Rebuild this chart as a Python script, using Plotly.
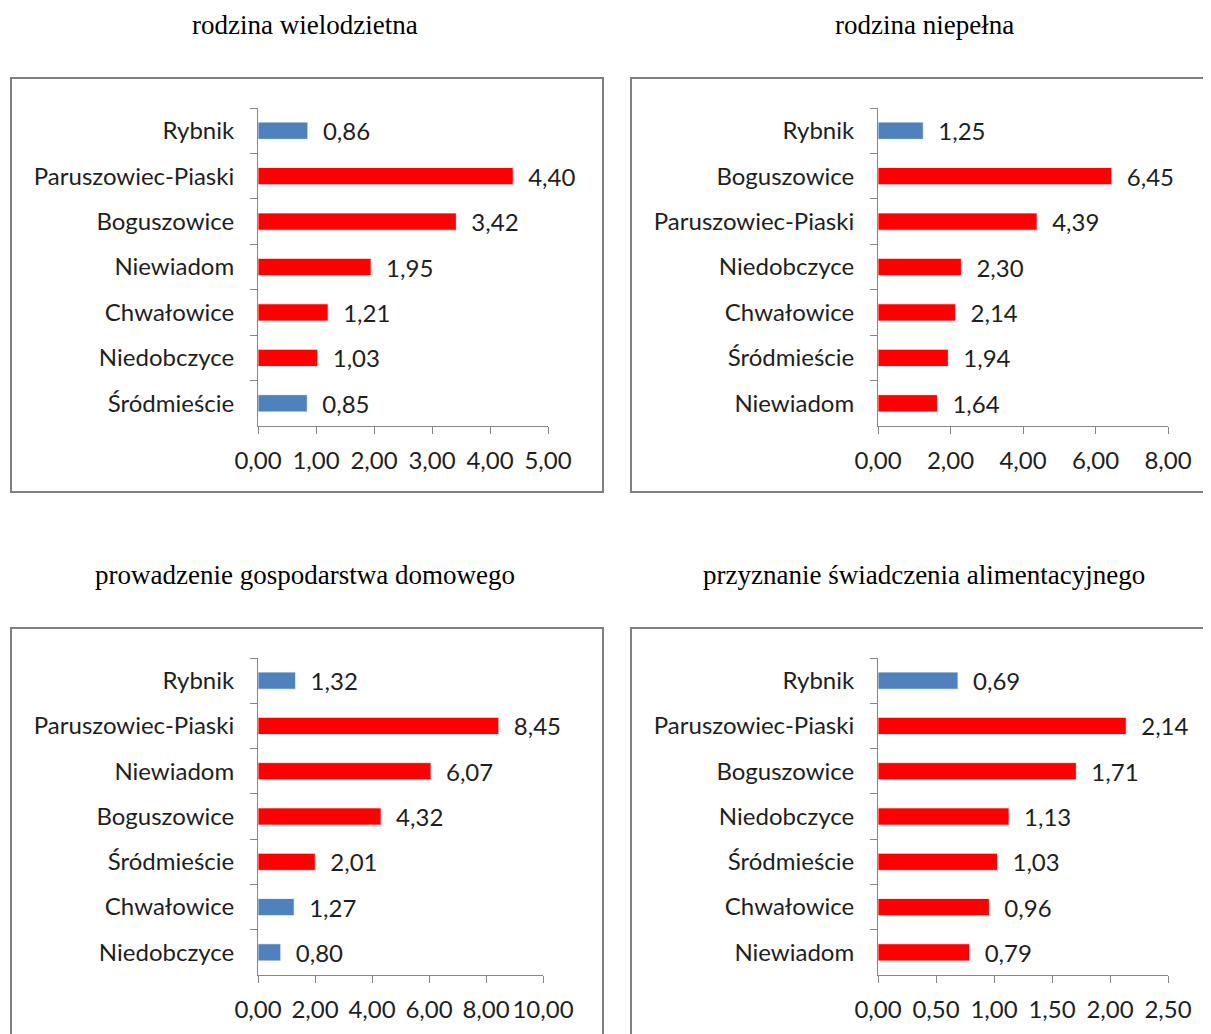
import plotly.graph_objects as go

W, H = 1211, 1034
OFF = 8  # page body margin in the browser

# ---- data ----
titles = [
    "rodzina wielodzietna",
    "rodzina niepełna",
    "prowadzenie gospodarstwa domowego",
    "przyznanie świadczenia alimentacyjnego",
]

cats1 = ["Rybnik", "Paruszowiec-Piaski", "Boguszowice", "Niewiadom", "Chwałowice", "Niedobczyce", "Śródmieście"]
vals1 = [0.86, 4.40, 3.42, 1.95, 1.21, 1.03, 0.85]
cols1 = ["blue", "red", "red", "red", "red", "red", "blue"]

cats2 = ["Rybnik", "Boguszowice", "Paruszowiec-Piaski", "Niedobczyce", "Chwałowice", "Śródmieście", "Niewiadom"]
vals2 = [1.25, 6.45, 4.39, 2.30, 2.14, 1.94, 1.64]
cols2 = ["blue", "red", "red", "red", "red", "red", "red"]

cats3 = ["Rybnik", "Paruszowiec-Piaski", "Niewiadom", "Boguszowice", "Śródmieście", "Chwałowice", "Niedobczyce"]
vals3 = [1.32, 8.45, 6.07, 4.32, 2.01, 1.27, 0.80]
cols3 = ["blue", "red", "red", "red", "red", "blue", "blue"]

cats4 = ["Rybnik", "Paruszowiec-Piaski", "Boguszowice", "Niedobczyce", "Śródmieście", "Chwałowice", "Niewiadom"]
vals4 = [0.69, 2.14, 1.71, 1.13, 1.03, 0.96, 0.79]
cols4 = ["blue", "red", "red", "red", "red", "red", "red"]

ranges = [(0, 5), (0, 8), (0, 10), (0, 2.5)]
dticks = [1, 2, 2, 0.5]

# ---- styling ----
COLOR_MAP = {"blue": "#4F81BD", "red": "#FF0000"}
FONT = "Lato, 'Open Sans', sans-serif"
FS = 24
TXT = "#1e1e1e"
AX = "#868686"

# panel geometry in target pixels: (x0, x1, ytop, ybottom) of plot area
plot_px = [
    (258, 548, 108, 426),
    (878, 1168, 108, 426),
    (258, 543, 658, 975),
    (878, 1168, 658, 975),
]
title_px = [(305, 25), (924, 25), (305, 575), (924, 575)]
box_px = [(11, 78, 603, 492), (631, 78, 1240, 492), (11, 628, 603, 1070), (631, 628, 1240, 1070)]

datasets = [(cats1, vals1, cols1), (cats2, vals2, cols2), (cats3, vals3, cols3), (cats4, vals4, cols4)]


def px_x(x):
    return (x - OFF) / W


def px_y(y):
    return 1 - (y - OFF) / H


fig = go.Figure()
shapes = []
annotations = []

for i, (cats, vals, cols) in enumerate(datasets):
    n = i + 1
    xa = "x" if n == 1 else f"x{n}"
    ya = "y" if n == 1 else f"y{n}"
    fig.add_trace(go.Bar(
        x=vals, y=cats, orientation="h",
        marker=dict(color=[COLOR_MAP[c] for c in cols], line=dict(color="rgba(255,255,255,0.8)", width=1)),
        texttemplate="\u2002%{x:.2f}",
        textposition="outside",
        constraintext="none",
        textfont=dict(family=FONT, size=FS, color=TXT),
        cliponaxis=False,
        xaxis=xa, yaxis=ya, showlegend=False, hoverinfo="skip",
    ))
    x0, x1, yt, yb = plot_px[i]
    xkey = "xaxis" if n == 1 else f"xaxis{n}"
    ykey = "yaxis" if n == 1 else f"yaxis{n}"
    fig.update_layout(**{
        xkey: dict(
            domain=[px_x(x0), px_x(x1)], anchor=ya, range=list(ranges[i]), dtick=dticks[i],
            tickformat=".2f", showgrid=False, zeroline=False, automargin=False,
            showline=True, linecolor=AX, linewidth=1,
            ticks="outside", ticklen=7, tickcolor=AX,
            ticklabelstandoff=6,
            tickfont=dict(family=FONT, size=FS, color=TXT),
        ),
        ykey: dict(
            domain=[px_y(yb), px_y(yt)], anchor=xa, autorange="reversed",
            type="category", showgrid=False, zeroline=False, automargin=False,
            showline=True, linecolor=AX, linewidth=1,
            ticks="outside", ticklen=7, tickcolor=AX, tickson="boundaries",
            ticklabelstandoff=18,
            tickfont=dict(family=FONT, size=FS, color=TXT),
        ),
    })
    bx0, by0, bx1, by1 = box_px[i]
    shapes.append(dict(type="rect", xref="paper", yref="paper",
                       x0=px_x(bx0), x1=px_x(bx1), y0=px_y(by1), y1=px_y(by0),
                       line=dict(color="#808080", width=2), fillcolor="rgba(0,0,0,0)", layer="below"))
    tx, ty = title_px[i]
    annotations.append(dict(text=titles[i], xref="paper", yref="paper", x=px_x(tx), y=px_y(ty),
                            xanchor="center", yanchor="middle", showarrow=False,
                            font=dict(family="'Liberation Serif', 'DejaVu Serif', serif", size=27, color="#000000")))

fig.update_layout(
    template="none",
    width=W, height=H, margin=dict(l=0, r=0, t=0, b=0, pad=0, autoexpand=False),
    paper_bgcolor="white", plot_bgcolor="rgba(0,0,0,0)",
    separators=", ", bargap=0.62,
    shapes=shapes, annotations=annotations,
)

fig.write_html("out.html")
